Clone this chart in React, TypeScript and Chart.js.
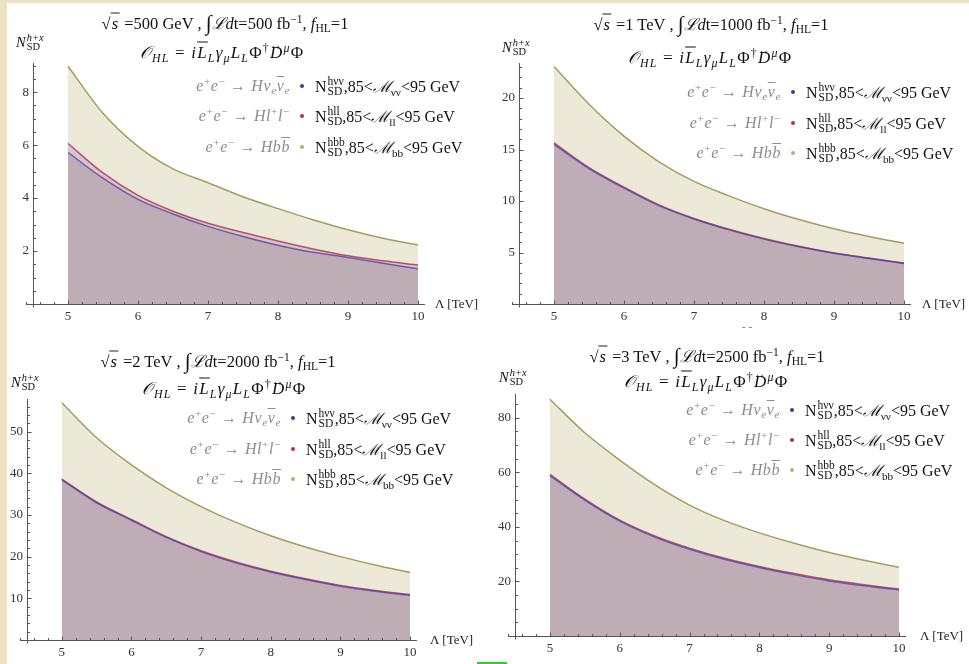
import React, { useEffect, useRef } from 'react';
import { Chart, registerables } from 'chart.js';
Chart.register(...registerables);

// ---------------- data ----------------
const LAMBDA = [5, 5.5, 6, 6.5, 7, 7.5, 8, 8.5, 9, 9.5, 10];
const X_TICKS = [5, 6, 7, 8, 9, 10];

// sqrt(s)=500 GeV
const HVV_500 = [5.72, 4.75, 3.95, 3.4, 2.93, 2.55, 2.22, 1.95, 1.76, 1.54, 1.33];
const HLL_500 = [6.06, 4.95, 4.1, 3.5, 3.05, 2.7, 2.38, 2.08, 1.82, 1.63, 1.47];
const HBB_500 = [8.98, 7.2, 5.95, 5.1, 4.58, 4.05, 3.6, 3.18, 2.8, 2.48, 2.23];
const Y_TICKS_500 = [2, 4, 6, 8];

// sqrt(s)=1 TeV
const HVV_1T = [15.5, 13.15, 11.25, 9.55, 8.25, 7.2, 6.3, 5.55, 4.92, 4.42, 3.93];
const HLL_1T = [15.65, 13.25, 11.35, 9.62, 8.3, 7.25, 6.35, 5.6, 4.96, 4.46, 3.97];
const HBB_1T = [23.06, 19.4, 16.3, 13.8, 11.9, 10.5, 9.25, 8.2, 7.3, 6.55, 5.9];
const Y_TICKS_1T = [5, 10, 15, 20];

// sqrt(s)=2 TeV
const HVV_2T = [38.4, 32.9, 28.7, 24.6, 21.2, 18.5, 16.3, 14.5, 12.9, 11.7, 10.7];
const HLL_2T = [38.6, 33.1, 28.9, 24.8, 21.4, 18.7, 16.5, 14.7, 13.1, 11.9, 10.9];
const HBB_2T = [56.9, 48.5, 42.0, 36.5, 32.0, 28.2, 25.0, 22.3, 20.0, 18.0, 16.2];
const Y_TICKS_2T = [10, 20, 30, 40, 50];

// sqrt(s)=3 TeV
const HVV_3T = [58.8, 49.8, 42.1, 36.3, 31.8, 28.1, 25.1, 22.5, 20.2, 18.4, 16.9];
const HLL_3T = [59.2, 50.2, 42.5, 36.7, 32.2, 28.5, 25.5, 22.9, 20.6, 18.8, 17.2];
const HBB_3T = [86.8, 74.5, 64.5, 55.5, 48.0, 42.3, 37.8, 34.0, 30.6, 27.8, 25.2];
const Y_TICKS_3T = [20, 40, 60, 80];

// ---------------- styles ----------------
const SERIF = "'Liberation Serif','Times New Roman','DejaVu Serif',serif";
const EDGE = '#EEE2C4';
const OLIVE_LINE = '#A39E5C';
const OLIVE_FILL = '#ECE9D9';
const RED_LINE = 'rgba(182,58,92,0.88)';
const RED_FILL = '#D9C5CB';
const BLUE_LINE = 'rgba(72,62,168,0.75)';
const BLUE_FILL = '#BEADB5';
const AXIS = '#555';
const DOTS = ['#3b3b9b', '#b03050', '#b5ad6a'];
const GRAY = '#8c8c8c';

type PanelCfg = {
  key: string;
  s: string;
  lumi: string;
  box: number[];
  area: number[];
  yMax: number;
  yTicks: number[];
  yMinor: number;
  hvv: number[];
  hll: number[];
  hbb: number[];
  t1: number[];
  t2: number[];
  nLab: number[];
  dotX: number;
  rows: number[];
  lam: number[];
};

const PANELS: PanelCfg[] = [
  {
    key: 'a', s: '500 GeV', lumi: '500', box: [0, 0, 484, 332], area: [33, 63, 425, 304],
    yMax: 9.1, yTicks: Y_TICKS_500, yMinor: 0.5, hvv: HVV_500, hll: HLL_500, hbb: HBB_500,
    t1: [225, 24], t2: [222, 53], nLab: [16, 33], dotX: 302, rows: [86, 116, 147], lam: [435, 304],
  },
  {
    key: 'b', s: '1 TeV', lumi: '1000', box: [484, 0, 485, 332], area: [519, 63, 911, 304],
    yMax: 23.4, yTicks: Y_TICKS_1T, yMinor: 1, hvv: HVV_1T, hll: HLL_1T, hbb: HBB_1T,
    t1: [711, 25], t2: [710, 58], nLab: [502, 38], dotX: 793, rows: [92, 123, 153], lam: [922, 304],
  },
  {
    key: 'c', s: '2 TeV', lumi: '2000', box: [0, 332, 484, 332], area: [27, 399, 417, 640],
    yMax: 57.8, yTicks: Y_TICKS_2T, yMinor: 2, hvv: HVV_2T, hll: HLL_2T, hbb: HBB_2T,
    t1: [218, 362], t2: [224, 389], nLab: [11, 373], dotX: 293, rows: [418, 449, 479], lam: [430, 640],
  },
  {
    key: 'd', s: '3 TeV', lumi: '2500', box: [484, 332, 485, 332], area: [515, 394, 906, 636],
    yMax: 88.7, yTicks: Y_TICKS_3T, yMinor: 5, hvv: HVV_3T, hll: HLL_3T, hbb: HBB_3T,
    t1: [707, 357], t2: [706, 382], nLab: [499, 368], dotX: 792, rows: [410, 440, 470], lam: [920, 636],
  },
];

const X_MIN = 4.5;
const X_MAX = 10.1;
const X_AXIS_START = 4.4;
const Y_AXIS_W = 24;
const X_AXIS_H = 22;

// Mathematica-like axes drawn through the chart's own scales
const mmaAxes = {
  id: 'mmaAxes',
  afterDatasetsDraw(chart: any, _a: any, o: any) {
    const { ctx } = chart;
    const xs = chart.scales.x;
    const ys = chart.scales.y;
    const ax = Math.round(xs.getPixelForValue(X_MIN)) + 0.5;
    const ay = Math.round(ys.getPixelForValue(0)) + 0.5;
    ctx.save();
    ctx.strokeStyle = AXIS;
    ctx.lineWidth = 1;
    ctx.beginPath();
    ctx.moveTo(xs.getPixelForValue(o.xStart), ay);
    ctx.lineTo(xs.right, ay);
    ctx.moveTo(ax, ys.top);
    ctx.lineTo(ax, ay + 3);
    const xm = o.xMinor;
    for (let k = Math.ceil(o.xStart / xm - 1e-9); k * xm <= xs.max + 1e-9; k++) {
      const v = k * xm;
      const major = Math.abs(v - Math.round(v)) < 1e-6;
      const px = Math.round(xs.getPixelForValue(v)) + 0.5;
      ctx.moveTo(px, ay);
      ctx.lineTo(px, ay - (major ? 4 : 2.5));
    }
    const ym = o.yMinor;
    for (let k = 1; k * ym <= ys.max + 1e-9; k++) {
      const v = k * ym;
      const major = o.yTicks.some((t: number) => Math.abs(t - v) < 1e-6);
      const py = Math.round(ys.getPixelForValue(v)) + 0.5;
      ctx.moveTo(ax, py);
      ctx.lineTo(ax + (major ? 4 : 2.5), py);
    }
    ctx.stroke();
    ctx.restore();
  },
};

// ---------------- text helpers ----------------
const Sup = ({ children, it }: any) => (
  <span style={{ fontSize: '0.7em', position: 'relative', top: '-0.5em', fontStyle: it ? 'italic' : 'normal' }}>{children}</span>
);
const Sub = ({ children, it }: any) => (
  <span style={{ fontSize: '0.7em', position: 'relative', top: '0.3em', fontStyle: it ? 'italic' : 'normal' }}>{children}</span>
);
const Stack = ({ sup, sub, supIt }: any) => (
  <span style={{ display: 'inline-flex', flexDirection: 'column', fontSize: '0.72em', lineHeight: 0.9, verticalAlign: '0.62em', marginLeft: 1 }}>
    <span style={{ fontStyle: supIt ? 'italic' : 'normal' }}>{sup}</span>
    <span style={{ fontStyle: 'normal' }}>{sub}</span>
  </span>
);
const Ov = ({ children }: any) => <span style={{ textDecoration: 'overline' }}>{children}</span>;

function Title1({ s, lumi }: { s: string; lumi: string }) {
  return (
    <span>
      √<span style={{ fontStyle: 'italic', borderTop: '1px solid #222', padding: '0 2px 0 1px' }}>s</span>
      {' ='}{s}{' , '}
      <span style={{ fontSize: '1.3em', lineHeight: 0, position: 'relative', top: '0.05em' }}>∫</span>
      <span style={{ fontStyle: 'italic' }}>ℒd</span>t={lumi} fb<Sup>−1</Sup>, <i>f</i><Sub>HL</Sub>=1
    </span>
  );
}

function Title2() {
  return (
    <span style={{ fontStyle: 'italic' }}>
      𝒪<Sub it>HL</Sub>
      <span style={{ fontStyle: 'normal' }}>{' = '}</span>i<Ov>L</Ov><Sub it>L</Sub>γ<Sub it>μ</Sub>L<Sub it>L</Sub>
      <span style={{ fontStyle: 'normal' }}>Φ</span><Sup>†</Sup>
      <span style={{ position: 'relative', display: 'inline-block' }}>
        D
        <span style={{ position: 'absolute', left: '0em', top: '-0.7em', fontSize: '0.7em', fontStyle: 'normal' }}>↔</span>
      </span>
      <Sup it>μ</Sup><span style={{ fontStyle: 'normal' }}>Φ</span>
    </span>
  );
}

const PROC = [
  <span key="p1"><i>e</i><Sup>+</Sup><i>e</i><Sup>−</Sup> → <i>Hν</i><Sub it>e</Sub><i><Ov>ν</Ov></i><Sub it>e</Sub></span>,
  <span key="p2"><i>e</i><Sup>+</Sup><i>e</i><Sup>−</Sup> → <i>Hl</i><Sup>+</Sup><i>l</i><Sup>−</Sup></span>,
  <span key="p3"><i>e</i><Sup>+</Sup><i>e</i><Sup>−</Sup> → <i>Hb</i><i><Ov>b</Ov></i></span>,
];
const CH = [
  ['hνν', 'νν'],
  ['hll', 'll'],
  ['hbb', 'bb'],
];

function Panel({ p }: { p: PanelCfg }) {
  const ref = useRef<HTMLCanvasElement>(null);
  useEffect(() => {
    const [bx, by, bw, bh] = p.box;
    const [L, T, R, B] = p.area;
    const common = { pointRadius: 0, borderWidth: 1.5, fill: 'origin', cubicInterpolationMode: 'monotone' };
    const pts = (arr: number[]) => LAMBDA.map((x, i) => ({ x, y: arr[i] }));
    const tickFont = { family: SERIF, size: 13 };
    const chart = new Chart(ref.current as HTMLCanvasElement, {
      type: 'line',
      data: {
        datasets: [
          { label: 'hvv', data: pts(p.hvv), borderColor: BLUE_LINE, backgroundColor: BLUE_FILL, ...common },
          { label: 'hll', data: pts(p.hll), borderColor: RED_LINE, backgroundColor: RED_FILL, ...common },
          { label: 'hbb', data: pts(p.hbb), borderColor: OLIVE_LINE, backgroundColor: OLIVE_FILL, ...common },
        ],
      } as any,
      options: {
        responsive: false,
        animation: false,
        devicePixelRatio: 1,
        events: [],
        layout: { padding: { left: L - bx - Y_AXIS_W, top: T - by, right: bx + bw - R, bottom: by + bh - B - X_AXIS_H } },
        scales: {
          x: {
            type: 'linear', min: X_MIN, max: X_MAX,
            grid: { display: false, drawTicks: false }, border: { display: false },
            afterFit: (s: any) => { s.height = X_AXIS_H; },
            afterBuildTicks: (s: any) => { s.ticks = X_TICKS.map((v) => ({ value: v })); },
            ticks: { padding: 5, font: tickFont, color: '#333', maxRotation: 0, autoSkip: false, callback: (v: any) => String(v) },
          },
          y: {
            type: 'linear', min: 0, max: p.yMax,
            grid: { display: false, drawTicks: false }, border: { display: false },
            afterFit: (s: any) => { s.width = Y_AXIS_W; },
            afterBuildTicks: (s: any) => { s.ticks = p.yTicks.map((v) => ({ value: v })); },
            ticks: { padding: 4, font: tickFont, color: '#333', autoSkip: false, callback: (v: any) => String(v) },
          },
        },
        plugins: {
          legend: { display: false },
          tooltip: { enabled: false },
          filler: { drawTime: 'beforeDatasetsDraw' },
          mmaAxes: { xStart: X_AXIS_START, xMinor: 0.2, yMinor: p.yMinor, yTicks: p.yTicks },
        } as any,
      } as any,
      plugins: [mmaAxes as any],
    });
    return () => chart.destroy();
  }, [p]);

  const [bx, by, bw, bh] = p.box;
  return (
    <>
      <canvas ref={ref} width={bw} height={bh} style={{ position: 'absolute', left: bx, top: by, width: bw, height: bh }} />
      <div style={{ position: 'absolute', left: p.t1[0], top: p.t1[1], transform: 'translate(-50%,-50%)', whiteSpace: 'nowrap', fontSize: 16.5, lineHeight: '20px', color: '#111' }}>
        <Title1 s={p.s} lumi={p.lumi} />
      </div>
      <div style={{ position: 'absolute', left: p.t2[0], top: p.t2[1], transform: 'translate(-50%,-50%)', whiteSpace: 'nowrap', fontSize: 17, letterSpacing: 1.2, lineHeight: '20px', color: '#111' }}>
        <Title2 />
      </div>
      <div style={{ position: 'absolute', left: p.nLab[0], top: p.nLab[1], whiteSpace: 'nowrap', fontSize: 14.5, lineHeight: '18px', color: '#111' }}>
        <i>N</i><Stack sup="h+x" sub="SD" supIt />
      </div>
      {p.rows.map((y, i) => (
        <React.Fragment key={i}>
          <div style={{ position: 'absolute', left: p.dotX - 12, top: y - 10, transform: 'translateX(-100%)', whiteSpace: 'nowrap', fontSize: 16, letterSpacing: 0.6, lineHeight: '20px', color: GRAY }}>
            {PROC[i]}
          </div>
          <div style={{ position: 'absolute', left: p.dotX - 2, top: y - 2, width: 4, height: 4, borderRadius: 2, background: DOTS[i] }} />
          <div style={{ position: 'absolute', left: p.dotX + 13, top: y - 10, whiteSpace: 'nowrap', fontSize: 16, lineHeight: '20px', color: '#111' }}>
            N<Stack sup={CH[i][0]} sub="SD" />,85&lt;<i>ℳ</i><Sub>{CH[i][1]}</Sub>&lt;95 GeV
          </div>
        </React.Fragment>
      ))}
      <div style={{ position: 'absolute', left: p.lam[0], top: p.lam[1] - 9, whiteSpace: 'nowrap', fontSize: 13, lineHeight: '18px', color: '#222' }}>
        Λ [TeV]
      </div>
    </>
  );
}

export default function App() {
  return (
    <div style={{ position: 'fixed', left: 0, top: 0, width: 969, height: 664, background: '#fff', overflow: 'hidden', fontFamily: SERIF }}>
      {PANELS.map((p) => (
        <Panel key={p.key} p={p} />
      ))}
      <div style={{ position: 'absolute', left: 742, top: 320, fontSize: 11, lineHeight: '12px', color: '#666', whiteSpace: 'nowrap' }}>- -</div>
      <div style={{ position: 'absolute', left: 0, top: 0, width: 969, height: 3, background: EDGE }} />
      <div style={{ position: 'absolute', left: 0, top: 0, width: 7, height: 664, background: EDGE }} />
      <div style={{ position: 'absolute', left: 477, top: 662, width: 30, height: 2, background: '#3c3' }} />
    </div>
  );
}
